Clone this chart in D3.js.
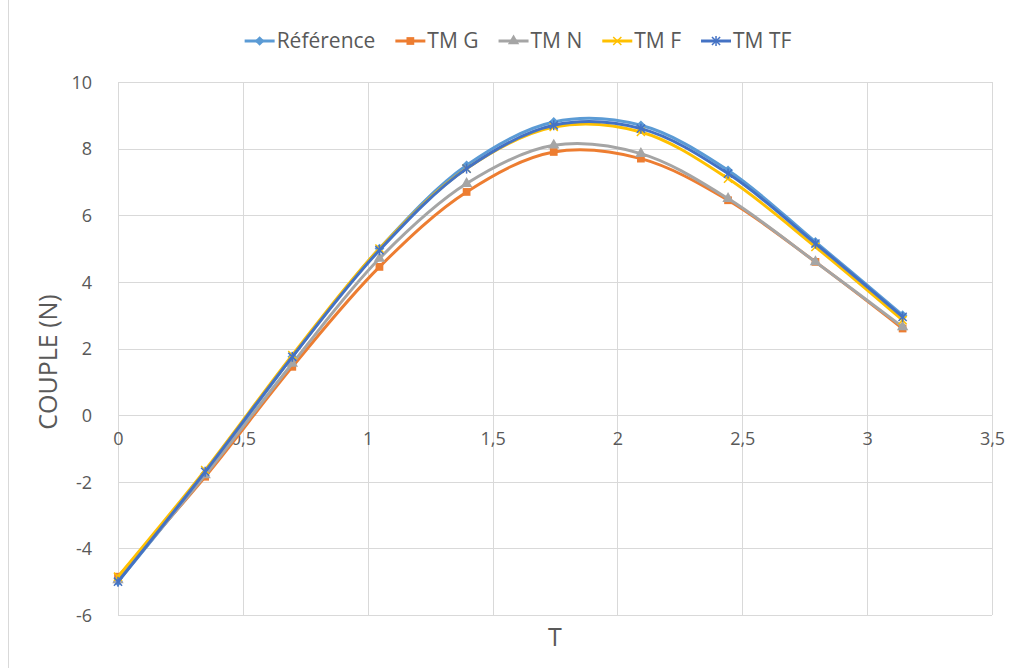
<!DOCTYPE html>
<html>
<head>
<meta charset="utf-8">
<script src="https://cdn.jsdelivr.net/npm/d3@7"></script>
<style>
  html, body { margin: 0; padding: 0; background: #fff; }
  svg { display: block; }
  text { font-family: "Open Sans", "Noto Sans", sans-serif; fill: #595959; }
</style>
</head>
<body>
<svg id="chart" width="1010" height="668"></svg>
<script>
const seriesNames = ["Référence", "TM G", "TM N", "TM F", "TM TF"];
const xValues = [0, 0.349, 0.698, 1.047, 1.396, 1.745, 2.094, 2.443, 2.793, 3.142];
const refValues = [-5.0, -1.75, 1.75, 5.0, 7.5, 8.8, 8.7, 7.35, 5.2, 3.0];
const tmgValues = [-4.85, -1.85, 1.45, 4.45, 6.7, 7.9, 7.7, 6.45, 4.6, 2.6];
const tmnValues = [-4.95, -1.8, 1.55, 4.7, 6.95, 8.1, 7.85, 6.5, 4.6, 2.65];
const tmfValues = [-4.85, -1.65, 1.8, 5.0, 7.4, 8.65, 8.5, 7.1, 5.05, 2.85];
const tmtfValues = [-5.0, -1.7, 1.75, 4.95, 7.4, 8.7, 8.6, 7.25, 5.15, 2.95];
const xTicks = [0, 0.5, 1, 1.5, 2, 2.5, 3, 3.5];
const yTicks = [-6, -4, -2, 0, 2, 4, 6, 8, 10];
const xTitle = "T";
const yTitle = "COUPLE (N)";

const colors = ["#5B9BD5", "#ED7D31", "#A5A5A5", "#FFC000", "#4472C4"];
const markers = ["diamond", "square", "triangle", "x", "star"];
const allValues = [refValues, tmgValues, tmnValues, tmfValues, tmtfValues];

const svg = d3.select("#chart");
const plot = { left: 118, right: 992, top: 82, bottom: 615 };

const x = d3.scaleLinear().domain([0, 3.5]).range([plot.left, plot.right]);
const y = d3.scaleLinear().domain([-6, 10]).range([plot.bottom, plot.top]);

// outer border (left edge visible)
svg.append("line").attr("x1", 8.5).attr("x2", 8.5).attr("y1", 0).attr("y2", 668)
  .attr("stroke", "#d9d9d9").attr("stroke-width", 1);

// gridlines
const grid = svg.append("g");
grid.selectAll(".hg").data(yTicks).enter().append("line")
  .attr("x1", plot.left).attr("x2", plot.right)
  .attr("y1", d => Math.round(y(d)) + 0.5).attr("y2", d => Math.round(y(d)) + 0.5)
  .attr("stroke", "#d9d9d9").attr("stroke-width", 1);
grid.selectAll(".vg").data(xTicks).enter().append("line")
  .attr("y1", plot.top).attr("y2", plot.bottom)
  .attr("x1", d => Math.round(x(d)) + 0.5).attr("x2", d => Math.round(x(d)) + 0.5)
  .attr("stroke", "#d9d9d9").attr("stroke-width", 1);

// axes labels via d3 axes
const yAxis = d3.axisLeft(y).tickValues(yTicks).tickSize(0).tickPadding(0).tickFormat(d => String(d));
const gy = svg.append("g").attr("transform", `translate(${plot.left - 26},0)`).call(yAxis);
gy.select(".domain").remove();
gy.selectAll("text").style("font-size", "18px").attr("fill", "#595959")
  .attr("font-family", "'Open Sans', sans-serif").attr("dy", "0.35em");

const xAxis = d3.axisBottom(x).tickValues(xTicks).tickSize(0).tickPadding(0)
  .tickFormat(d => String(d).replace(".", ","));
const gx = svg.append("g").attr("transform", `translate(0,${y(0) + 30})`).call(xAxis);
gx.select(".domain").remove();
gx.selectAll("text").style("font-size", "18px").attr("fill", "#595959")
  .attr("font-family", "'Open Sans', sans-serif").attr("dy", "0");

// axis titles
svg.append("text").attr("x", x(1.75)).attr("y", 646).attr("text-anchor", "middle")
  .style("font-size", "25px").text(xTitle);
svg.append("text").attr("transform", `translate(57,362) rotate(-90)`)
  .attr("text-anchor", "middle").style("font-size", "25px").text(yTitle);

// marker drawing
function drawMarker(g, type, color, cx, cy) {
  const s = g.append("g").attr("transform", `translate(${cx},${cy})`);
  if (type === "diamond") {
    s.append("path").attr("d", d3.symbol().type(d3.symbolDiamond2).size(60)()).attr("fill", color);
  } else if (type === "square") {
    s.append("path").attr("d", d3.symbol().type(d3.symbolSquare).size(60)()).attr("fill", color);
  } else if (type === "triangle") {
    s.append("path").attr("d", d3.symbol().type(d3.symbolTriangle).size(56)()).attr("fill", color);
  } else if (type === "x") {
    s.append("path").attr("d", d3.symbol().type(d3.symbolTimes).size(45)())
      .attr("fill", "none").attr("stroke", color).attr("stroke-width", 1.5);
  } else if (type === "star") {
    s.append("path").attr("d", d3.symbol().type(d3.symbolTimes).size(45)())
      .attr("fill", "none").attr("stroke", color).attr("stroke-width", 1.5);
    s.append("line").attr("x1", 0).attr("x2", 0).attr("y1", -5).attr("y2", 5)
      .attr("stroke", color).attr("stroke-width", 1.5);
  }
}

// series
const line = d3.line().x(d => x(d[0])).y(d => y(d[1])).curve(d3.curveCatmullRom.alpha(0.5));
const seriesG = svg.append("g");
allValues.forEach((vals, i) => {
  const pts = xValues.map((xv, j) => [xv, vals[j]]);
  const g = seriesG.append("g");
  g.append("path").datum(pts).attr("d", line).attr("fill", "none")
    .attr("stroke", colors[i]).attr("stroke-width", 3).attr("stroke-linecap", "round");
  pts.forEach(p => drawMarker(g, markers[i], colors[i], x(p[0]), y(p[1])));
});

// legend
const legend = svg.append("g");
const legendY = 41;
const items = [];
seriesNames.forEach((name, i) => {
  const g = legend.append("g");
  g.append("line").attr("x1", 0).attr("x2", 30).attr("y1", 0).attr("y2", 0)
    .attr("stroke", colors[i]).attr("stroke-width", 3);
  drawMarker(g, markers[i], colors[i], 15, 0);
  const t = g.append("text").attr("x", 32).attr("y", 0).attr("dy", "0.35em")
    .style("font-size", "21px").text(name);
  const w = 32 + t.node().getComputedTextLength();
  items.push({ g, w });
});
const gap = 20;
const total = d3.sum(items, d => d.w) + gap * (items.length - 1);
let start = 518 - total / 2;
items.forEach(it => {
  it.g.attr("transform", `translate(${start},${legendY})`);
  start += it.w + gap;
});
</script>
</body>
</html>
